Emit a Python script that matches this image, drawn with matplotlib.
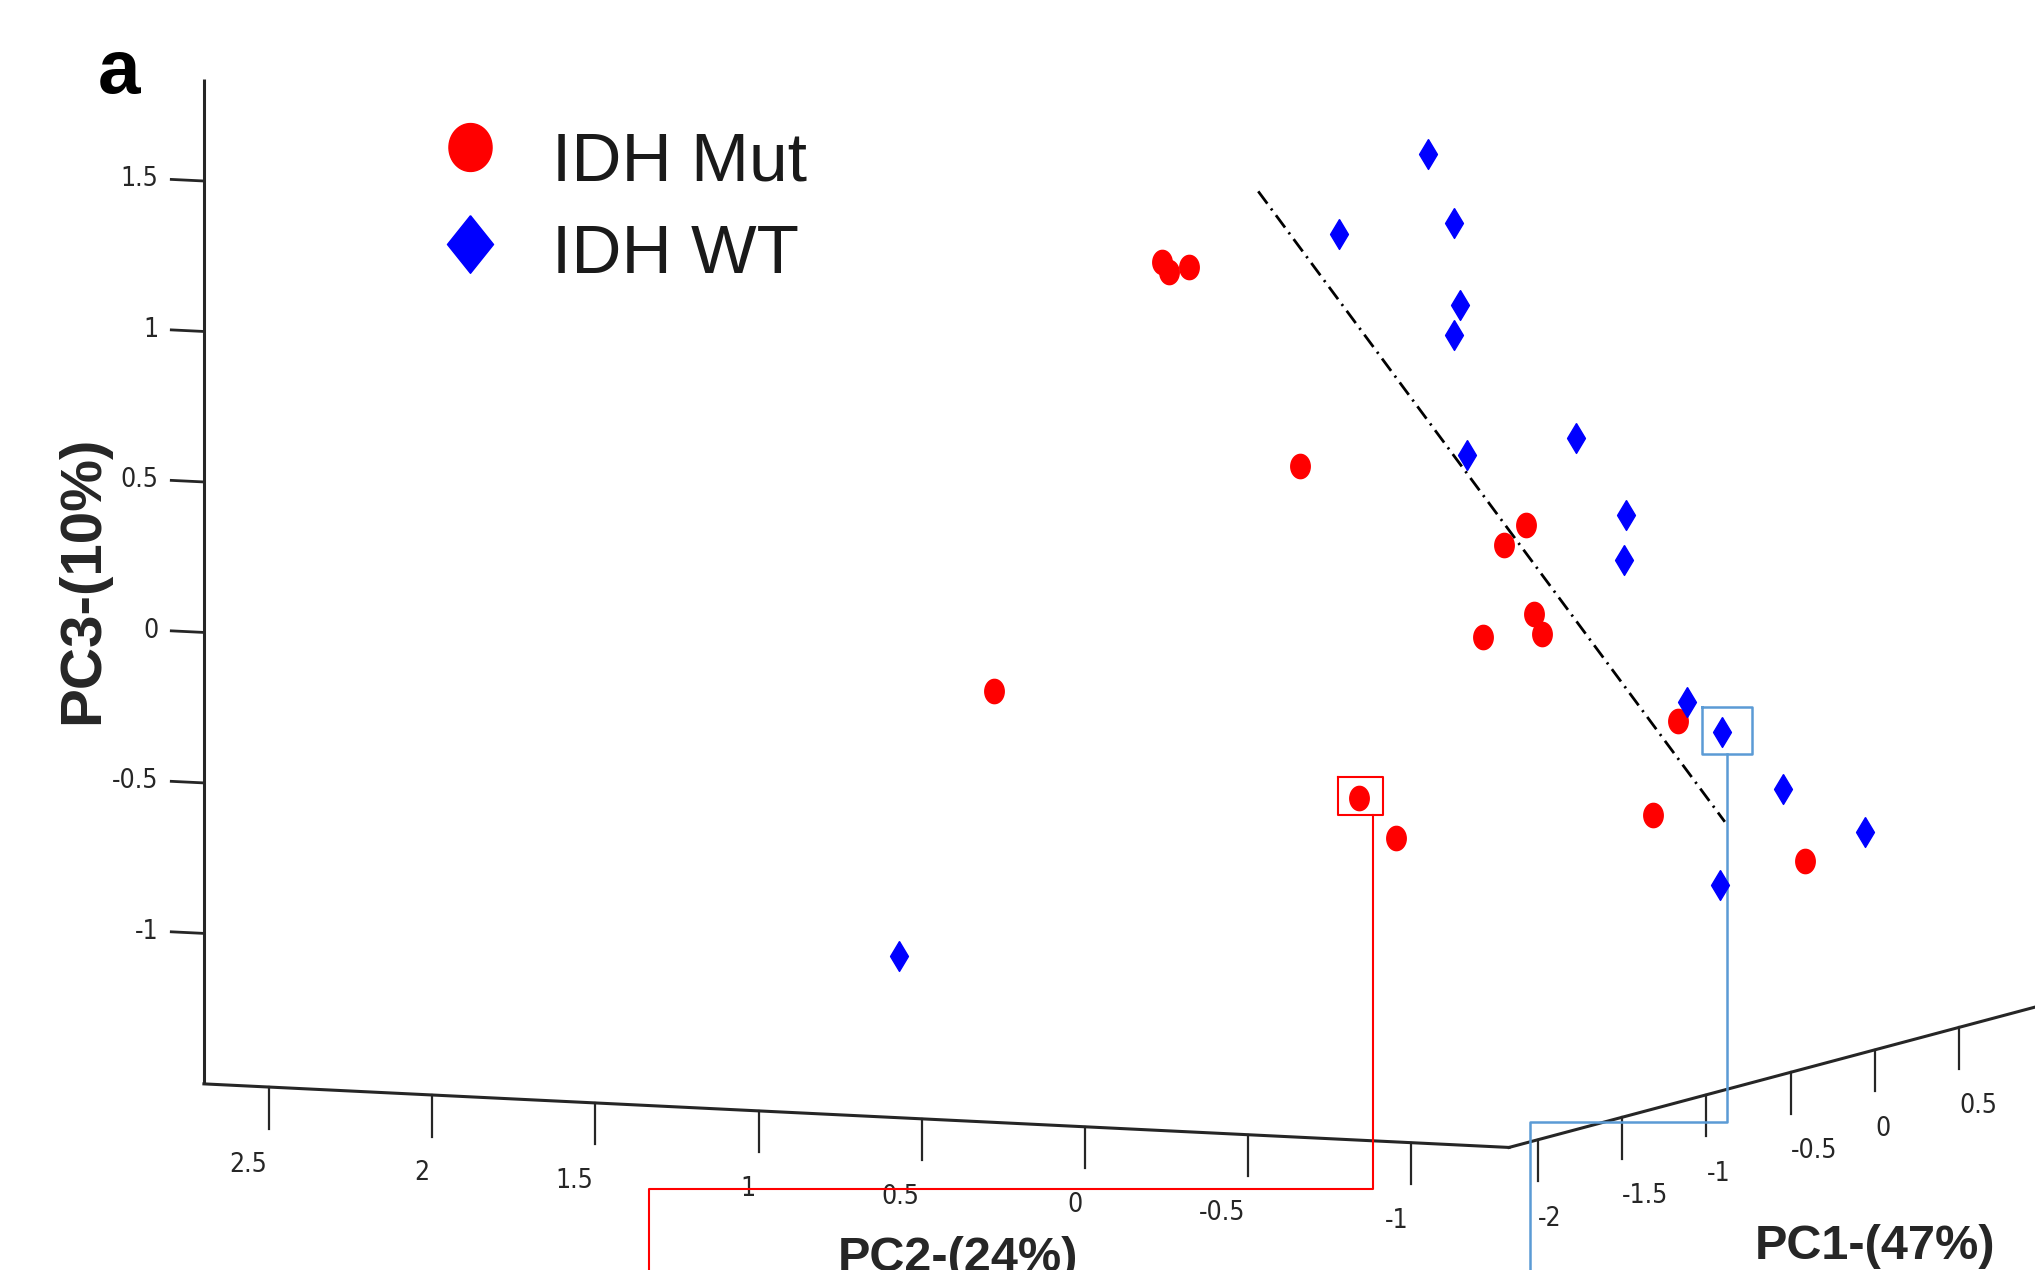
import numpy as np
import matplotlib.pyplot as plt
from matplotlib.path import Path

# reference view size: every position below is in these view units (x right, y down)
W, H = 1568, 979

# limits and ticks of the 3-D PCA box
pc1_lim = (-2.17, 1.3)
pc2_lim = (-1.3, 2.7)
pc3_lim = (-1.5, 1.84)
pc1_ticks = [-2, -1.5, -1, -0.5, 0, 0.5]
pc2_ticks = [2.5, 2, 1.5, 1, 0.5, 0, -0.5, -1]
pc3_ticks = [1.5, 1, 0.5, 0, -0.5, -1]

# samples as they appear in the projected view
mut_x = [895, 901, 916, 1002, 766, 1176, 1159, 1182, 1143, 1188, 1293, 1274, 1391, 1047, 1076]
mut_y = [202, 210, 206, 359, 533, 405, 420, 473, 491, 489, 556, 628, 664, 615, 646]
wt_x = [1100, 1032, 1120, 1125, 1120, 1130, 1214, 1253, 1251, 1300, 1327, 1374, 1437, 1325, 693]
wt_y = [119, 180, 172, 235, 258, 351, 338, 397, 432, 541, 564, 608, 641, 682, 737]

# dash-dot separating line
sep_x = [969.5, 1329]
sep_y = [147.5, 633.5]

# highlighted samples: box (x0, y0, x1, y1) and leader line
mut_box = (1031, 599, 1066, 628)
mut_lead_x = [1058, 1058, 500, 500]
mut_lead_y = [628, 916.5, 916.5, 990]
wt_box = (1311.5, 545, 1350, 581)
wt_lead_x = [1331, 1331, 1179, 1179]
wt_lead_y = [581, 865, 865, 990]

AX_COL = '#262626'
TICK_FONT = dict(family='DejaVu Sans', fontstretch='condensed', fontsize=19, color=AX_COL)
TITLE_FONT = dict(family='Liberation Sans', fontweight='bold', fontsize=35, color=AX_COL)


def view(pc1, pc2, pc3):
    # orthographic projection used by the original 3-D plot
    pc1, pc2, pc3 = np.broadcast_arrays(np.asarray(pc1, float), np.asarray(pc2, float),
                                        np.asarray(pc3, float))
    x = 1118 - 251.4 * pc2 + 130 * pc1
    y = 445.3 - 12.25 * pc2 - 34.7 * pc1 - 232 * pc3
    return x, y


def box_xy(b):
    x0, y0, x1, y1 = b
    return [x0, x1, x1, x0, x0], [y0, y0, y1, y1, y0]


t = np.linspace(0, 2 * np.pi, 64)
ellipse = Path(np.column_stack([0.8 * np.sin(t), np.cos(t)]))
diamond = Path([[0, 1], [0.6, 0], [0, -1], [-0.6, 0], [0, 1]])
ellipse_leg = Path(np.column_stack([0.9 * np.sin(t), np.cos(t)]))
diamond_leg = Path([[0, 1], [0.8, 0], [0, -1], [-0.8, 0], [0, 1]])

fig = plt.figure(figsize=(20.35, 12.7), dpi=100)
ax = fig.add_axes([0, 0, 1, 1])
ax.set_xlim(0, W)
ax.set_ylim(H, 0)
ax.axis('off')

p1min, p1max = pc1_lim
p2min, p2max = pc2_lim
p3min, p3max = pc3_lim

# box edges
ax.plot(*view(p1min, p2max, pc3_lim), color=AX_COL, lw=2.2, solid_capstyle='butt')
ax.plot(*view(p1min, pc2_lim, p3min), color=AX_COL, lw=2.2)
ax.plot(*view(pc1_lim, p2min, p3min), color=AX_COL, lw=2.2)

# PC3 ticks
for v in pc3_ticks:
    x0, y0 = view(p1min, p2max, v)
    x1, y1 = view(p1min, p2max + 0.1, v)
    ax.plot([x0, x1], [y0, y1], color=AX_COL, lw=2)
    ax.text(x1 - 10, y1, f'{v:g}', ha='right', va='center', **TICK_FONT)

# PC2 ticks
for v in pc2_ticks:
    x0, y0 = view(p1min, v, p3min)
    x1, y1 = view(p1min, v, p3min - 0.138)
    ax.plot([x0, x1], [y0, y1], color=AX_COL, lw=1.6)
    ax.text(x0 - 2, y0 + 60, f'{v:g}', ha='right', va='center', **TICK_FONT)

# PC1 ticks
for v in pc1_ticks:
    x0, y0 = view(v, p2min, p3min)
    x1, y1 = view(v, p2min, p3min - 0.138)
    ax.plot([x0, x1], [y0, y1], color=AX_COL, lw=1.6)
    ax.text(x0, y0 + 61, f'{v:g}', ha='left', va='center', **TICK_FONT)

# axis titles
ax.text(64, 447, 'PC3-(10%)', rotation=90, ha='center', va='center',
        fontsize=42, fontweight='bold', family='Liberation Sans', color=AX_COL)
ax.text(738, 980, 'PC2-(24%)', ha='center', va='baseline', **TITLE_FONT)
ax.text(1445, 970.5, 'PC1-(47%)', ha='center', va='baseline', **TITLE_FONT)
ax.text(75, 72, 'a', ha='left', va='baseline', fontsize=55, fontweight='bold',
        family='Liberation Sans', color='black')

# separating line
ax.plot(sep_x, sep_y, color='black', lw=2, dashes=(5.5, 2.2, 0.8, 2.2), zorder=3)

# highlight boxes and leader lines
ax.plot(*box_xy(mut_box), color='#ff0000', lw=1.5, zorder=4)
ax.plot(mut_lead_x, mut_lead_y, color='#ff0000', lw=1.5, zorder=4)
ax.plot(*box_xy(wt_box), color='#5b9bd5', lw=1.8, zorder=4)
ax.plot(wt_lead_x, wt_lead_y, color='#5b9bd5', lw=1.8, zorder=4)

# samples
ax.plot(mut_x, mut_y, ls='none', marker=ellipse, markersize=17.5,
        color='#ff0000', mec='#ff0000', zorder=5)
ax.plot(wt_x, wt_y, ls='none', marker=diamond, markersize=21.5,
        color='#0000ff', mec='#0000ff', zorder=5)

# legend
ax.plot([362], [113], marker=ellipse_leg, markersize=34.5, color='#ff0000', ls='none')
ax.plot([362], [188], marker=diamond_leg, markersize=41.5, color='#0000ff', ls='none')
ax.text(425, 139.5, 'IDH Mut', ha='left', va='baseline', fontsize=50,
        family='Liberation Sans', color='#1a1a1a')
ax.text(425, 210.5, 'IDH WT', ha='left', va='baseline', fontsize=50,
        family='Liberation Sans', color='#1a1a1a')

fig.savefig('out.png', dpi=100, facecolor='white')
